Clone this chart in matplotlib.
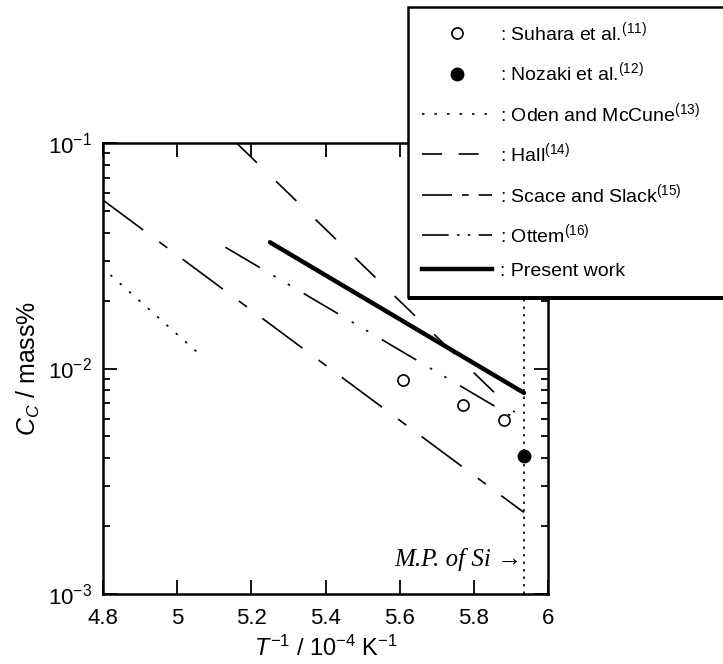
import numpy as np
import matplotlib
matplotlib.use("Agg")
import matplotlib.pyplot as plt
from matplotlib.ticker import MultipleLocator, FormatStrFormatter
from matplotlib.lines import Line2D
from matplotlib.patches import Rectangle

# fonts
plt.rcParams['font.family'] = ['Liberation Sans', 'DejaVu Sans']
plt.rcParams['mathtext.fontset'] = 'custom'
plt.rcParams['mathtext.rm'] = 'Liberation Sans'
plt.rcParams['mathtext.it'] = 'Liberation Sans:italic'
plt.rcParams['mathtext.bf'] = 'Liberation Sans:bold'

# data (T^-1 in 10^-4 K^-1, C_C in mass%)
suhara_x = [5.61, 5.77, 5.88]
suhara_y = [0.0089, 0.0069, 0.0059]
nozaki_x = [5.935]
nozaki_y = [0.0041]
oden_x = [4.82, 5.07]
oden_y = [0.026, 0.0112]
hall_x = [5.16, 5.91]
hall_y = [0.1, 0.0064]
scace_x = [4.8, 5.935]
scace_y = [0.0558, 0.0023]
ottem_x = [5.13, 5.92]
ottem_y = [0.0345, 0.0059]
present_x = [5.25, 5.935]
present_y = [0.0363, 0.0078]
mp_si = 5.935

labels = [": Suhara et al.$^{(11)}$", ": Nozaki et al.$^{(12)}$",
          ": Oden and McCune$^{(13)}$", ": Hall$^{(14)}$",
          ": Scace and Slack$^{(15)}$", ": Ottem$^{(16)}$", ": Present work"]

fig = plt.figure(figsize=(7.23, 6.64), dpi=100)
ax = fig.add_axes([0.1425, 0.1054, 0.6155, 0.6792])

dot_ls = (0, (1.5, 6))
hall_ls = (0, (17, 16))
scace_ls = (0, (30, 12, 6, 11.5))
ottem_ls = (0, (24, 9.5, 1.5, 8.5, 1.5, 9.5))

ax.axvline(mp_si, color='black', lw=1.2, ls=(0, (1.5, 3)))
ax.plot(oden_x, oden_y, color='black', lw=1.2, ls=dot_ls)
ax.plot(hall_x, hall_y, color='black', lw=1.2, ls=hall_ls)
ax.plot(scace_x, scace_y, color='black', lw=1.2, ls=scace_ls)
ax.plot(ottem_x, ottem_y, color='black', lw=1.2, ls=ottem_ls)
ax.plot(present_x, present_y, color='black', lw=3.2, solid_capstyle='round')
ax.plot(suhara_x, suhara_y, 'o', ms=8, mfc='white', mec='black', mew=1.2, ls='none')
ax.plot(nozaki_x, nozaki_y, 'o', ms=9, mfc='black', mec='black', ls='none')

ax.text(5.93, 0.00142, "M.P. of Si \u2192", ha='right', va='center', fontsize=18,
        style='italic', family=['Liberation Serif', 'DejaVu Serif'])

ax.set_yscale('log')
ax.set_xlim(4.8, 6)
ax.set_ylim(1e-3, 1e-1)
ax.xaxis.set_major_locator(MultipleLocator(0.2))
ax.xaxis.set_major_formatter(FormatStrFormatter('%g'))
ax.tick_params(which='both', direction='in', top=True, right=True, labelsize=16, width=1.3)
ax.tick_params(which='major', length=10, pad=10)
ax.tick_params(axis='y', which='major', pad=8)
ax.tick_params(which='minor', length=5)
for s in ax.spines.values():
    s.set_linewidth(1.8)

ax.set_xlabel("$T^{-1}$ / 10$^{-4}$ K$^{-1}$", fontsize=17, labelpad=5)
ax.set_ylabel("$C_C$ / mass%", fontsize=18, labelpad=4)

# legend box (drawn over the axes, runs off the right edge)
x0, y0 = 408 / 723, 1 - 297 / 664
fig.patches.append(Rectangle((x0, y0), 0.5, 0.99 - y0, transform=fig.transFigure,
                             facecolor='white', edgecolor='black', lw=1.8, zorder=3))
fig.patches.append(Rectangle((x0, y0 - 3 / 664), 0.5, 4 / 664, transform=fig.transFigure,
                             facecolor='black', edgecolor='none', zorder=3))

handles = [
    Line2D([], [], marker='o', ms=8, mfc='white', mec='black', mew=1.2, ls='none'),
    Line2D([], [], marker='o', ms=9, mfc='black', mec='black', ls='none'),
    Line2D([], [], color='black', lw=1.2, ls=dot_ls),
    Line2D([], [], color='black', lw=1.2, ls=(0, (12, 10))),
    Line2D([], [], color='black', lw=1.2, ls=(0, (18, 6, 4, 6))),
    Line2D([], [], color='black', lw=1.2, ls=(0, (16, 5, 1.5, 5, 1.5, 5))),
    Line2D([], [], color='black', lw=3.2),
]
leg = fig.legend(handles, labels, loc='upper left', bbox_to_anchor=(422 / 723, 1 - 20 / 664),
                 bbox_transform=fig.transFigure, frameon=False, fontsize=14,
                 handlelength=3.6, handletextpad=0.4, labelspacing=0.85,
                 borderpad=0, borderaxespad=0, numpoints=1)
leg.set_zorder(4)

fig.savefig("out.png", dpi=100)
